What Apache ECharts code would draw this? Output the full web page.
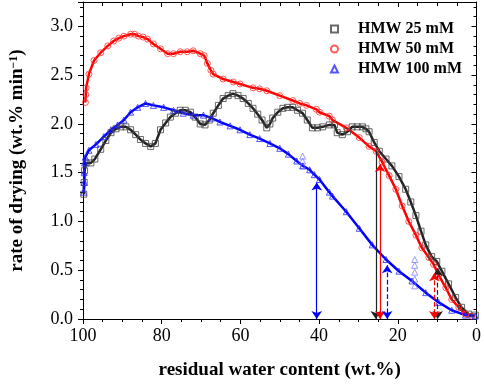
<!DOCTYPE html>
<html>
<head>
<meta charset="utf-8">
<script src="https://cdn.jsdelivr.net/npm/echarts@6/dist/echarts.min.js"></script>
<style>
  html, body { margin: 0; padding: 0; background: #fff; }
  #drying { width: 484px; height: 385px; }
</style>
</head>
<body>
<div id="drying"></div>
<script>
// [residual water content (wt.%), rate of drying]
var hmw25 = [
  [99.8, 1.28], [99.7, 1.40], [99.6, 1.52], [99.2, 1.60], [98.0, 1.60], [97.0, 1.64],
  [95.5, 1.74], [94.2, 1.83], [92.9, 1.91], [91.6, 1.95], [90.4, 1.97], [89.1, 1.97],
  [87.9, 1.94], [86.6, 1.89], [85.4, 1.84], [84.1, 1.80], [82.8, 1.77], [81.6, 1.80],
  [80.3, 1.94], [79.0, 2.01], [77.8, 2.07], [76.5, 2.11], [75.3, 2.14], [74.0, 2.14],
  [72.7, 2.12], [71.5, 2.07], [70.2, 2.00], [69.0, 1.99], [67.9, 2.04], [66.9, 2.11],
  [65.6, 2.19], [64.4, 2.26], [63.1, 2.29], [61.9, 2.31], [60.6, 2.29], [59.3, 2.26],
  [58.0, 2.21], [56.8, 2.16], [55.6, 2.10], [54.5, 2.04], [53.3, 1.96], [52.5, 2.00],
  [51.8, 2.06], [50.5, 2.12], [49.2, 2.16], [48.0, 2.17], [46.7, 2.17], [45.5, 2.14],
  [44.2, 2.11], [43.0, 2.04], [41.7, 1.96], [40.4, 1.96], [39.1, 1.97], [37.4, 1.99],
  [36.1, 1.99], [35.4, 1.91], [34.1, 1.89], [32.8, 1.92], [31.6, 1.97], [30.3, 1.97],
  [29.0, 1.97], [28.1, 1.95], [27.3, 1.92], [26.0, 1.81], [24.7, 1.72], [23.0, 1.64],
  [21.5, 1.57], [19.7, 1.46], [18.0, 1.33], [16.7, 1.20], [15.4, 1.06], [14.1, 0.90],
  [12.9, 0.76], [11.4, 0.64], [10.1, 0.59], [8.8, 0.49], [7.1, 0.36], [5.3, 0.22],
  [3.8, 0.12], [2.0, 0.05], [0.3, 0.04]
];
var hmw50 = [
  [99.4, 2.22], [99.3, 2.30], [99.2, 2.37], [98.5, 2.51], [97.2, 2.65], [95.5, 2.73],
  [93.7, 2.80], [92.2, 2.85], [90.9, 2.88], [89.6, 2.90], [87.9, 2.92], [86.9, 2.92],
  [85.9, 2.90], [84.7, 2.89], [83.6, 2.87], [82.1, 2.82], [80.3, 2.77], [78.5, 2.72],
  [77.0, 2.72], [75.3, 2.74], [73.5, 2.74], [72.0, 2.75], [70.2, 2.72], [69.2, 2.70],
  [68.4, 2.62], [67.5, 2.55], [66.9, 2.51], [64.4, 2.46], [61.8, 2.43], [60.1, 2.41],
  [56.8, 2.37], [55.1, 2.36], [53.3, 2.34], [50.0, 2.29], [46.7, 2.24], [44.9, 2.21],
  [43.2, 2.19], [40.7, 2.15], [39.9, 2.12], [37.4, 2.08], [36.6, 2.04], [33.1, 1.96],
  [29.8, 1.86], [27.3, 1.77], [25.5, 1.72], [24.0, 1.61], [22.2, 1.47], [20.5, 1.33],
  [18.9, 1.16], [17.2, 1.00], [15.4, 0.86], [13.9, 0.73], [12.1, 0.63], [10.9, 0.56],
  [9.6, 0.45], [7.8, 0.32], [6.3, 0.20], [4.5, 0.12], [2.8, 0.05], [1.3, 0.03]
];
var hmw100 = [
  [99.8, 1.30], [99.7, 1.40], [99.7, 1.50], [99.6, 1.60], [99.4, 1.66], [98.5, 1.73],
  [96.7, 1.79], [94.7, 1.87], [92.9, 1.94], [91.2, 1.99], [89.6, 2.04], [87.9, 2.12],
  [86.1, 2.17], [84.1, 2.21], [82.1, 2.19], [79.5, 2.17], [77.0, 2.14], [74.5, 2.11],
  [72.0, 2.09], [69.4, 2.09], [67.3, 2.06], [65.2, 2.02], [62.6, 1.98], [60.1, 1.94],
  [57.6, 1.89], [55.1, 1.85], [52.5, 1.80], [50.0, 1.75], [47.8, 1.69], [45.7, 1.62],
  [44.1, 1.57], [42.4, 1.53], [41.2, 1.48], [39.9, 1.43], [37.4, 1.30], [36.6, 1.26],
  [33.1, 1.10], [29.8, 0.93], [26.5, 0.76], [23.0, 0.61], [19.7, 0.49], [16.4, 0.39],
  [12.9, 0.27], [9.6, 0.17], [6.3, 0.09], [2.8, 0.04], [0.3, 0.03]
];
// pale stray points of the 100 mM run
var hmw100Stray = [
  [44.2, 1.57], [44.2, 1.62], [44.2, 1.67],
  [15.7, 0.34], [15.7, 0.41], [15.7, 0.48], [15.7, 0.55], [15.7, 0.61]
];
// [x, top of arrow]; first solid, second dashed
var arrows25 = [[25.6, 1.72], [9.85, 0.52]];
var arrows50 = [[24.5, 1.59], [10.7, 0.47]];
var arrows100 = [[40.6, 1.40], [22.7, 0.55]];
var seriesNames = ["HMW 25 mM", "HMW 50 mM", "HMW 100 mM"];

var serif = "Liberation Serif, Times New Roman, serif";

function arrowData(list, topSymbols) {
  return list.map(function (a, i) {
    var style = { type: i === 0 ? "solid" : "dashed" };
    return [
      { coord: [a[0], a[1]], symbol: topSymbols[i], lineStyle: style },
      { coord: [a[0], 0], symbol: "arrow", lineStyle: style },
    ];
  });
}

function trace(data, color, arrows, topSymbols) {
  return {
    type: "line",
    data: data,
    showSymbol: false,
    silent: true,
    z: 1,
    lineStyle: { color: color, width: 2.5 },
    markLine: {
      silent: true,
      symbolSize: 8,
      label: { show: false },
      lineStyle: { color: color, width: 1.2 },
      data: arrowData(arrows, topSymbols),
    },
  };
}

function markers(name, data, symbol, size, color) {
  return {
    name: name,
    type: "scatter",
    data: data,
    symbol: symbol,
    symbolSize: size,
    z: 3,
    itemStyle: { color: "rgba(255,255,255,0)", borderColor: color, borderWidth: 1 },
  };
}

function frameAxis(extra) {
  var axis = {
    type: "value",
    axisLine: { onZero: false, lineStyle: { color: "#000", width: 1 } },
    axisTick: { length: 5, lineStyle: { color: "#000" } },
    minorTick: { show: true, length: 3, lineStyle: { color: "#000" } },
    splitLine: { show: false },
  };
  for (var k in extra) {
    if (typeof extra[k] === "object" && axis[k] && !Array.isArray(extra[k])) {
      axis[k] = Object.assign({}, axis[k], extra[k]);
    } else {
      axis[k] = extra[k];
    }
  }
  return axis;
}

var chart = echarts.init(document.getElementById("drying"));

var option = {
  animation: false,
  grid: { left: 82, right: 6, top: 2, bottom: 63 },
  legend: {
    data: seriesNames,
    orient: "vertical",
    left: 330,
    top: 21,
    padding: 0,
    itemWidth: 7,
    itemHeight: 7,
    itemGap: 4,
    textStyle: {
      fontFamily: serif,
      fontWeight: "bold",
      fontSize: 16,
      color: "#000",
      padding: [0, 0, 0, 15],
    },
  },
  xAxis: [
    frameAxis({
      inverse: true,
      min: 0,
      max: 100,
      interval: 20,
      name: "residual water content (wt.%)",
      nameLocation: "middle",
      nameGap: 42,
      nameTextStyle: { fontFamily: serif, fontWeight: "bold", fontSize: 19, color: "#000" },
      minorTick: { splitNumber: 4 },
      axisLabel: { fontFamily: serif, fontSize: 18, color: "#000", margin: 8 },
    }),
    frameAxis({
      position: "top",
      inverse: true,
      min: 0,
      max: 100,
      interval: 20,
      axisTick: { inside: true, length: 5 },
      minorTick: { splitNumber: 4, length: 4 },
      axisLabel: { show: false },
    }),
  ],
  yAxis: [
    frameAxis({
      min: 0,
      max: 3.25,
      interval: 0.5,
      name: "rate of drying (wt.% min{s|−1})",
      nameLocation: "middle",
      nameGap: 56,
      nameTextStyle: {
        fontFamily: serif,
        fontWeight: "bold",
        fontSize: 19,
        color: "#000",
        rich: {
          s: { fontFamily: serif, fontWeight: "bold", fontSize: 12, color: "#000", verticalAlign: "top" },
        },
      },
      minorTick: { splitNumber: 5 },
      axisLabel: {
        fontFamily: serif,
        fontSize: 18,
        color: "#000",
        margin: 10,
        formatter: function (v) {
          return Math.abs(v * 2 - Math.round(v * 2)) < 1e-6 ? v.toFixed(1) : "";
        },
      },
    }),
    frameAxis({
      position: "right",
      min: 0,
      max: 3.25,
      interval: 0.5,
      axisTick: { inside: true, length: 5 },
      minorTick: { splitNumber: 5 },
      axisLabel: { show: false },
    }),
  ],
  series: [
    trace(hmw25, "#222", arrows25, ["none", "arrow"]),
    trace(hmw50, "#ff0000", arrows50, ["arrow", "arrow"]),
    trace(hmw100, "#0000ff", arrows100, ["arrow", "arrow"]),
    markers(seriesNames[0], hmw25, "rect", 6, "#444"),
    markers(seriesNames[1], hmw50, "circle", 6, "#ff3030"),
    markers("stray", hmw100Stray, "triangle", 6, "#8080ff"),
    markers(seriesNames[2], hmw100, "triangle", 6, "#2a2aff"),
  ],
};

chart.setOption(option);
</script>
</body>
</html>
